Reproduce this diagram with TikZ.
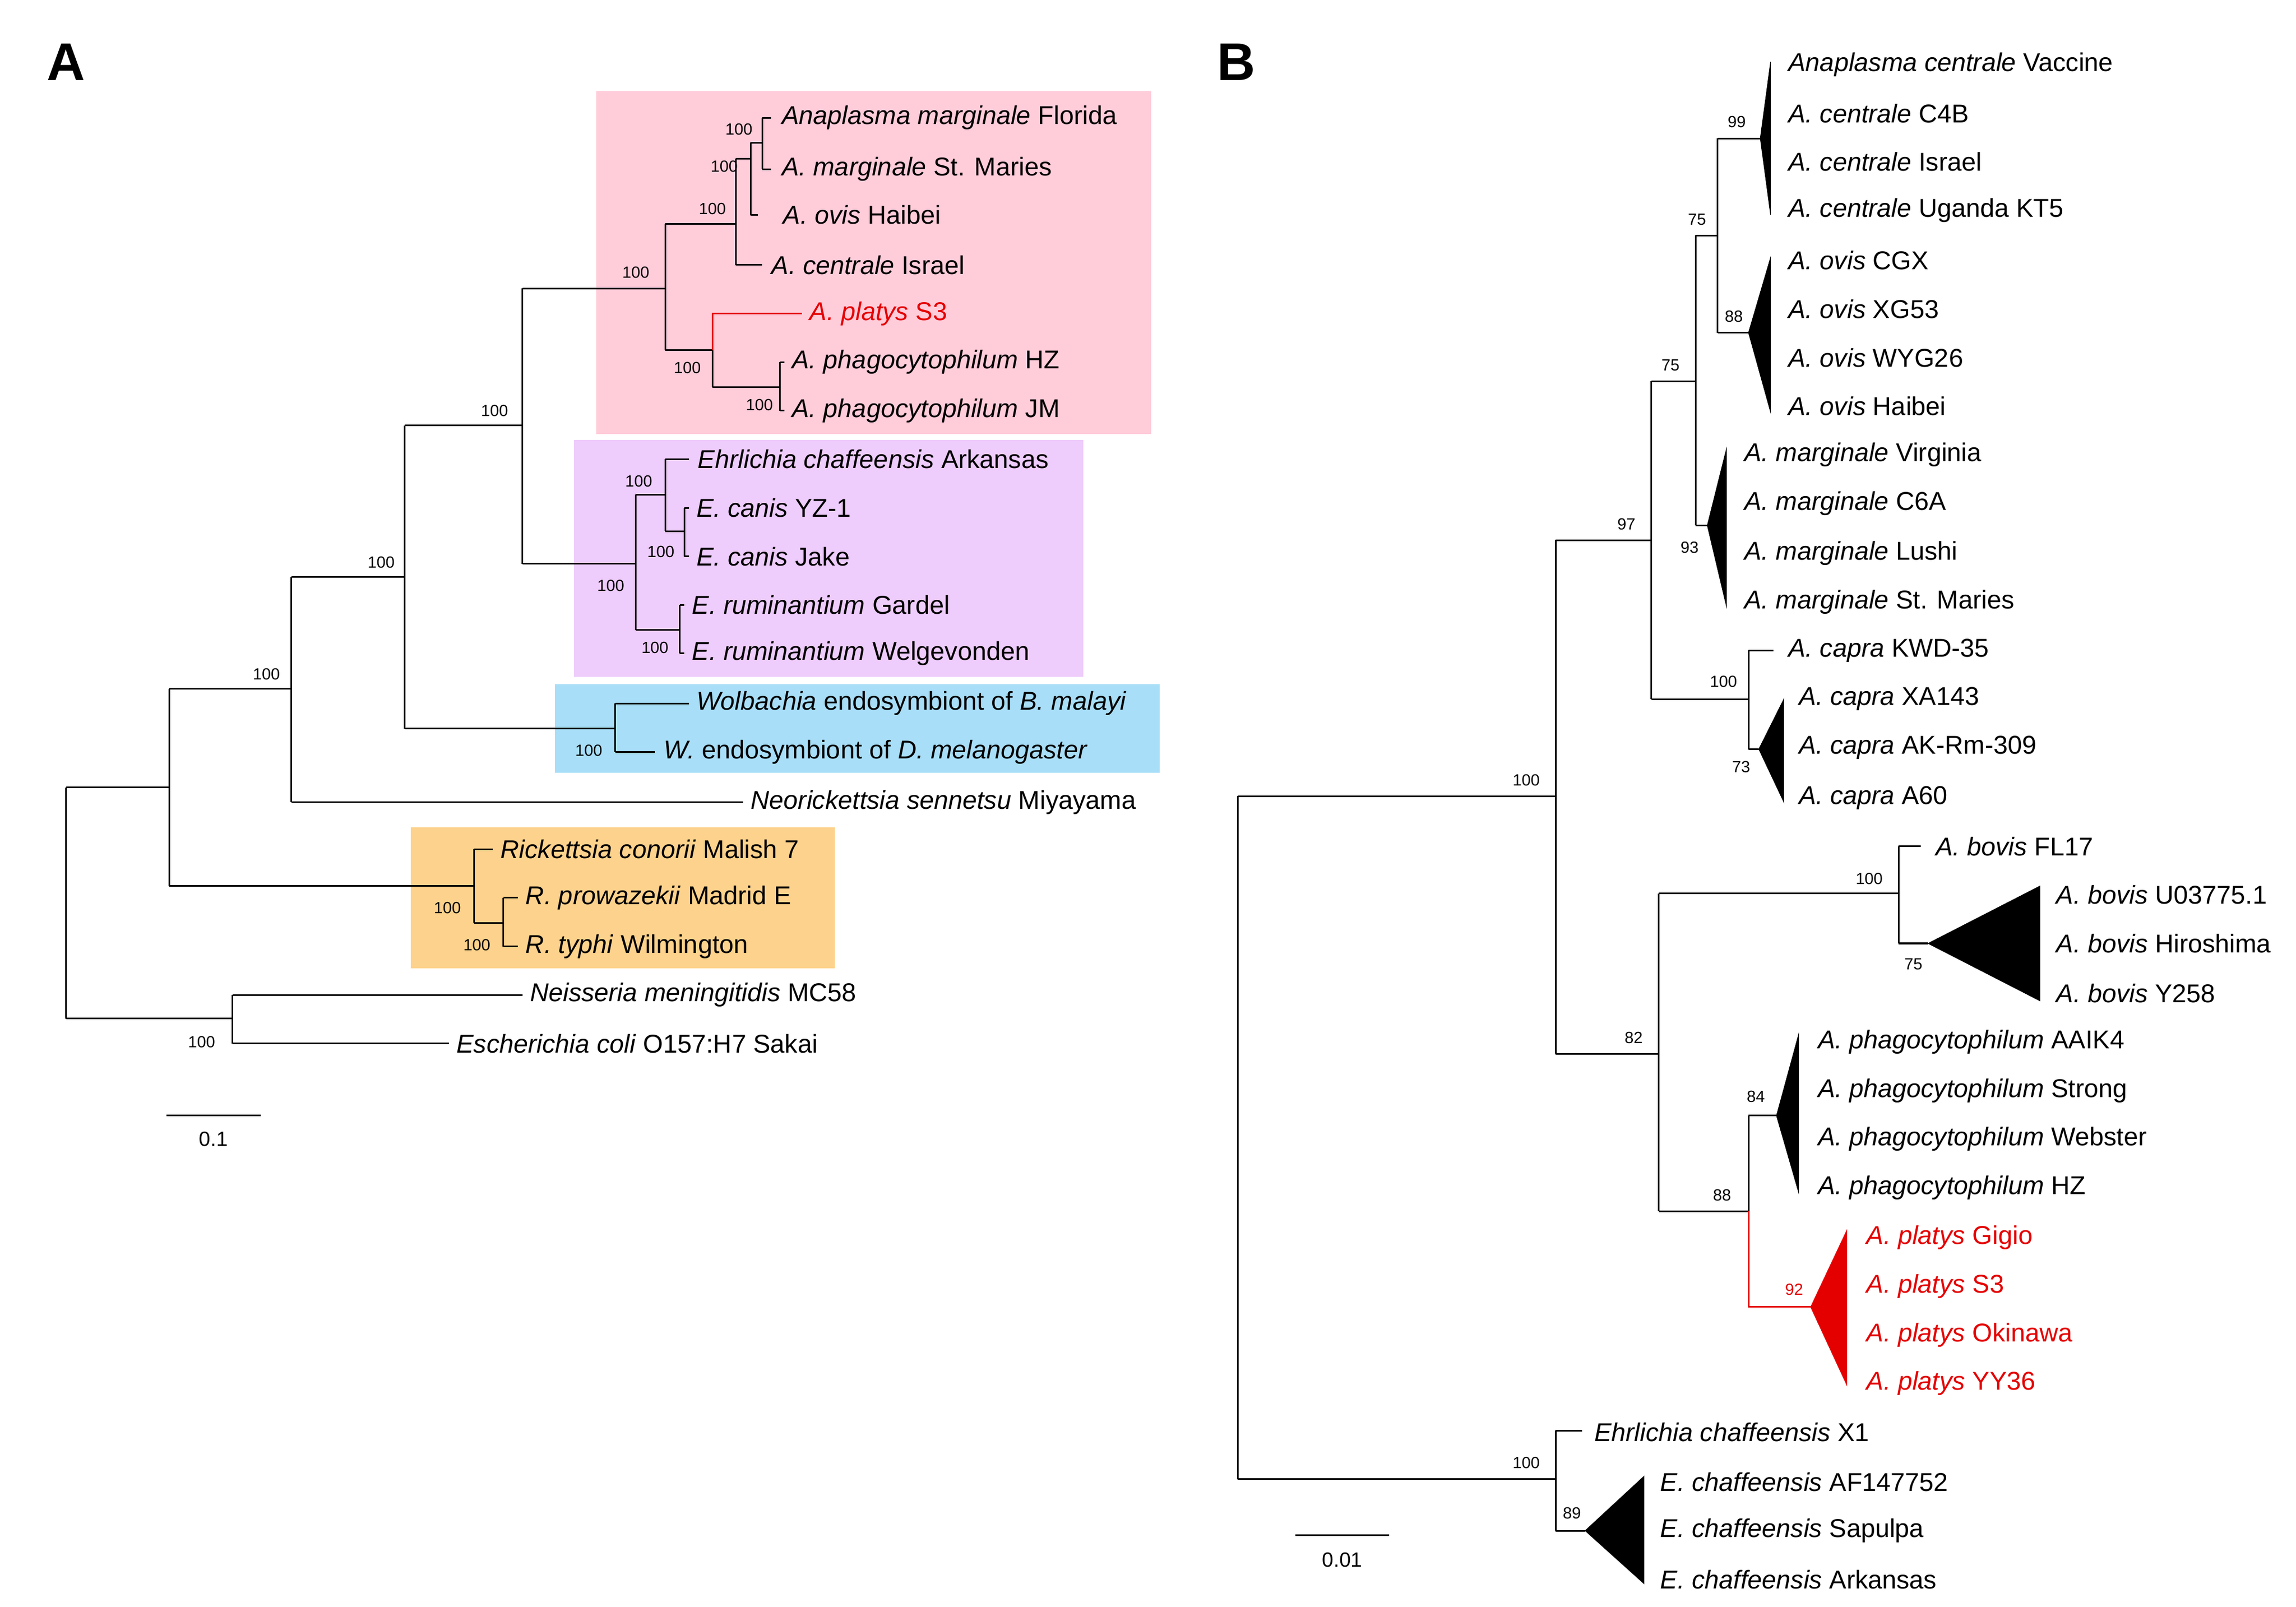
\documentclass[tikz,border=0pt]{standalone}
\usepackage{fontspec}
\setmainfont{Liberation Sans}
\begin{document}
\begin{tikzpicture}[x=1pt,y=-1pt,
  br/.style={line width=1.1pt,black},
  rb/.style={line width=1.1pt,red!90!black},
  lf/.style={anchor=west,inner sep=0pt,font=\fontsize{17.5}{20}\selectfont},
  rl/.style={lf,text=red!90!black},
  bs/.style={inner sep=0pt,font=\fontsize{11}{12}\selectfont},
  tri/.style={fill=black,draw=black},
  pl/.style={anchor=center,inner sep=0pt,font=\fontsize{36}{40}\selectfont\bfseries}]
\useasboundingbox (0,0) rectangle (1560,1091.5);
% boxes
\fill[fill={rgb,255:red,255;green,204;blue,218}] (405,62) rectangle (782,295);
\fill[fill={rgb,255:red,238;green,204;blue,251}] (390,299) rectangle (736,460);
\fill[fill={rgb,255:red,168;green,222;blue,248}] (377,465) rectangle (788,525);
\fill[fill={rgb,255:red,253;green,210;blue,140}] (279,562) rectangle (567,658);
\node[pl] (pA) at (45,42) {A};
\node[pl] (pB) at (840,42) {B};
% ---------- Panel A tree
\draw[br] (45,535) -- (45,692);
\draw[br] (45,535) -- (115,535); \draw[br] (115,468) -- (115,602);
\draw[br] (115,468) -- (198,468); \draw[br] (198,392) -- (198,545);
\draw[br] (198,392) -- (275,392); \draw[br] (275,289) -- (275,495);
\draw[br] (275,289) -- (355,289); \draw[br] (355,196) -- (355,383);
\draw[br] (355,196) -- (452,196); \draw[br] (452,152) -- (452,238);
\draw[br] (452,152) -- (500,152); \draw[br] (500,108) -- (500,180);
\draw[br] (500,180) -- (518,180);
\draw[br] (500,108) -- (510,108); \draw[br] (510,97) -- (510,146);
\draw[br] (510,146) -- (515,146);
\draw[br] (510,97) -- (518,97); \draw[br] (518,80) -- (518,115);
\draw[br] (518,80) -- (524,80); \draw[br] (518,115) -- (524,115);
\draw[br] (452,238) -- (484,238); \draw[br] (484,238) -- (484,263);
\draw[rb] (484,238) -- (484,213) -- (545,213);
\draw[br] (484,263) -- (530,263); \draw[br] (530,246) -- (530,279);
\draw[br] (530,246) -- (533,246); \draw[br] (530,279) -- (533,279);
\draw[br] (355,383) -- (432,383); \draw[br] (432,336) -- (432,428);
\draw[br] (432,336) -- (452,336); \draw[br] (452,312) -- (452,361);
\draw[br] (452,312) -- (468,312);
\draw[br] (452,361) -- (465,361); \draw[br] (465,345) -- (465,378);
\draw[br] (465,345) -- (468,345); \draw[br] (465,378) -- (468,378);
\draw[br] (432,428) -- (462,428); \draw[br] (462,411) -- (462,444);
\draw[br] (462,411) -- (465,411); \draw[br] (462,444) -- (465,444);
\draw[br] (275,495) -- (418,495); \draw[br] (418,478) -- (418,511);
\draw[br] (418,478) -- (468,478); \draw[br] (418,511) -- (445,511);
\draw[br] (198,545) -- (505,545);
\draw[br] (115,602) -- (322,602); \draw[br] (322,577) -- (322,627);
\draw[br] (322,577) -- (335,577);
\draw[br] (322,627) -- (342,627); \draw[br] (342,610) -- (342,643);
\draw[br] (342,610) -- (352,610); \draw[br] (342,643) -- (352,643);
\draw[br] (45,692) -- (158,692); \draw[br] (158,676) -- (158,709);
\draw[br] (158,676) -- (355,676); \draw[br] (158,709) -- (305,709);
% bootstraps A
\node[bs] at (502,88) {100}; \node[bs] at (492,113) {100};
\node[bs] at (484,142) {100}; \node[bs] at (432,185) {100};
\node[bs] at (467,250) {100}; \node[bs] at (516,275) {100};
\node[bs] at (336,279) {100}; \node[bs] at (259,382) {100};
\node[bs] at (181,458) {100};
\node[bs] at (434,327) {100}; \node[bs] at (449,375) {100};
\node[bs] at (415,398) {100}; \node[bs] at (445,440) {100};
\node[bs] at (400,510) {100};
\node[bs] at (304,617) {100}; \node[bs] at (324,642) {100};
\node[bs] at (137,708) {100};
% labels A
\node[lf] (a1) at (531,80) {\textit{Anaplasma marginale} Florida};
\node[lf] (a2) at (531,115) {\textit{A. marginale} St. Maries};
\node[lf] (a3) at (532,146) {\textit{A. ovis} Haibei};
\node[lf] (a4) at (524,180) {\textit{A. centrale} Israel};
\node[rl] (a5) at (550,213) {\textit{A. platys} S3};
\node[lf] (a6) at (538,246) {\textit{A. phagocytophilum} HZ};
\node[lf] (a7) at (538,279) {\textit{A. phagocytophilum} JM};
\node[lf] (a8) at (474,312) {\textit{Ehrlichia chaffeensis} Arkansas};
\node[lf] (a9) at (473,345) {\textit{E. canis} YZ-1};
\node[lf] (a10) at (473,378) {\textit{E. canis} Jake};
\node[lf] (a11) at (470,411) {\textit{E. ruminantium} Gardel};
\node[lf] (a12) at (470,444) {\textit{E. ruminantium} Welgevonden};
\node[lf] (a13) at (473,478) {\textit{Wolbachia} endosymbiont of \textit{B. malayi}};
\node[lf] (a14) at (451,511) {\textit{W.} endosymbiont of \textit{D. melanogaster}};
\node[lf] (a15) at (510,545) {\textit{Neorickettsia sennetsu} Miyayama};
\node[lf] (a16) at (340,577) {\textit{Rickettsia conorii} Malish 7};
\node[lf] (a17) at (357,610) {\textit{R. prowazekii} Madrid E};
\node[lf] (a18) at (357,643) {\textit{R. typhi} Wilmington};
\node[lf] (a19) at (360,676) {\textit{Neisseria meningitidis} MC58};
\node[lf] (a20) at (310,709) {\textit{Escherichia coli} O157:H7 Sakai};
\draw[br] (113,758) -- (177,758);
\node[bs,font=\fontsize{14}{16}\selectfont] (sa) at (145,774) {0.1};
% ---------- Panel B tree
\draw[br] (841,541) -- (841,1005);
\draw[br] (841,541) -- (1057,541); \draw[br] (1057,367) -- (1057,716);
\draw[br] (1057,367) -- (1122,367); \draw[br] (1122,259) -- (1122,475);
\draw[br] (1122,259) -- (1152,259); \draw[br] (1152,160) -- (1152,357);
\draw[br] (1152,160) -- (1167,160); \draw[br] (1167,94) -- (1167,226);
\draw[br] (1167,94) -- (1196,94);
\fill[tri] (1196,94) -- (1203,42) -- (1203,146) -- cycle;
\draw[br] (1167,226) -- (1188,226);
\fill[tri] (1188,226) -- (1203,175) -- (1203,280) -- cycle;
\draw[br] (1152,357) -- (1160,357);
\fill[tri] (1160,357) -- (1173,305) -- (1173,412) -- cycle;
\draw[br] (1122,475) -- (1188,475); \draw[br] (1188,442) -- (1188,509);
\draw[br] (1188,442) -- (1205,442); \draw[br] (1188,509) -- (1195,509);
\fill[tri] (1195,509) -- (1212,475) -- (1212,545) -- cycle;
\draw[br] (1057,716) -- (1127,716); \draw[br] (1127,607) -- (1127,823);
\draw[br] (1127,607) -- (1290,607); \draw[br] (1290,575) -- (1290,641);
\draw[br] (1290,575) -- (1305,575); \draw[br] (1290,641) -- (1310,641);
\fill[tri] (1310,641) -- (1386,602) -- (1386,680) -- cycle;
\draw[br] (1127,823) -- (1188,823); \draw[br] (1188,758) -- (1188,823);
\draw[br] (1188,758) -- (1207,758);
\fill[tri] (1207,758) -- (1222,703) -- (1222,810) -- cycle;
\draw[rb] (1188,823) -- (1188,888) -- (1230,888);
\fill[red!90!black] (1230,888) -- (1255,835) -- (1255,942) -- cycle;
\draw[br] (841,1005) -- (1057,1005); \draw[br] (1057,972) -- (1057,1040);
\draw[br] (1057,972) -- (1075,972); \draw[br] (1057,1040) -- (1077,1040);
\fill[tri] (1077,1040) -- (1117,1003) -- (1117,1076) -- cycle;
% bootstraps B
\node[bs] at (1180,83) {99}; \node[bs] at (1178,215) {88};
\node[bs] at (1153,149) {75}; \node[bs] at (1135,248) {75};
\node[bs] at (1148,372) {93}; \node[bs] at (1105,356) {97};
\node[bs] at (1171,463) {100}; \node[bs] at (1183,521) {73};
\node[bs] at (1037,530) {100}; \node[bs] at (1270,597) {100};
\node[bs] at (1300,655) {75}; \node[bs] at (1110,705) {82};
\node[bs] at (1193,745) {84}; \node[bs] at (1170,812) {88};
\node[bs,text=red!90!black] at (1219,876) {92};
\node[bs] at (1037,994) {100}; \node[bs] at (1068,1028) {89};
% labels B
\node[lf] (b1) at (1215,44) {\textit{Anaplasma centrale} Vaccine};
\node[lf] (b2) at (1215,77) {\textit{A. centrale} C4B};
\node[lf] (b3) at (1215,110) {\textit{A. centrale} Israel};
\node[lf] (b4) at (1215,143) {\textit{A. centrale} Uganda KT5};
\node[lf] (b5) at (1215,177) {\textit{A. ovis} CGX};
\node[lf] (b6) at (1215,210) {\textit{A. ovis} XG53};
\node[lf] (b7) at (1215,243) {\textit{A. ovis} WYG26};
\node[lf] (b8) at (1215,276) {\textit{A. ovis} Haibei};
\node[lf] (b9) at (1185,309) {\textit{A. marginale} Virginia};
\node[lf] (b10) at (1185,342) {\textit{A. marginale} C6A};
\node[lf] (b11) at (1185,376) {\textit{A. marginale} Lushi};
\node[lf] (b12) at (1185,409) {\textit{A. marginale} St. Maries};
\node[lf] (b13) at (1215,442) {\textit{A. capra} KWD-35};
\node[lf] (b14) at (1222,475) {\textit{A. capra} XA143};
\node[lf] (b15) at (1222,508) {\textit{A. capra} AK-Rm-309};
\node[lf] (b16) at (1222,542) {\textit{A. capra} A60};
\node[lf] (b17) at (1315,575) {\textit{A. bovis} FL17};
\node[lf] (b18) at (1397,608) {\textit{A. bovis} U03775.1};
\node[lf] (b19) at (1397,641) {\textit{A. bovis} Hiroshima};
\node[lf] (b20) at (1397,675) {\textit{A. bovis} Y258};
\node[lf] (b21) at (1235,708) {\textit{A. phagocytophilum} AAIK4};
\node[lf] (b22) at (1235,741) {\textit{A. phagocytophilum} Strong};
\node[lf] (b23) at (1235,774) {\textit{A. phagocytophilum} Webster};
\node[lf] (b24) at (1235,807) {\textit{A. phagocytophilum} HZ};
\node[rl] (b25) at (1268,841) {\textit{A. platys} Gigio};
\node[rl] (b26) at (1268,874) {\textit{A. platys} S3};
\node[rl] (b27) at (1268,907) {\textit{A. platys} Okinawa};
\node[rl] (b28) at (1268,940) {\textit{A. platys} YY36};
\node[lf] (b29) at (1083,973) {\textit{Ehrlichia chaffeensis} X1};
\node[lf] (b30) at (1128,1007) {\textit{E. chaffeensis} AF147752};
\node[lf] (b31) at (1128,1040) {\textit{E. chaffeensis} Sapulpa};
\node[lf] (b32) at (1128,1073) {\textit{E. chaffeensis} Arkansas};
\draw[br] (880,1043) -- (944,1043);
\node[bs,font=\fontsize{14}{16}\selectfont] (sb) at (912,1060) {0.01};
\end{tikzpicture}
\end{document}
